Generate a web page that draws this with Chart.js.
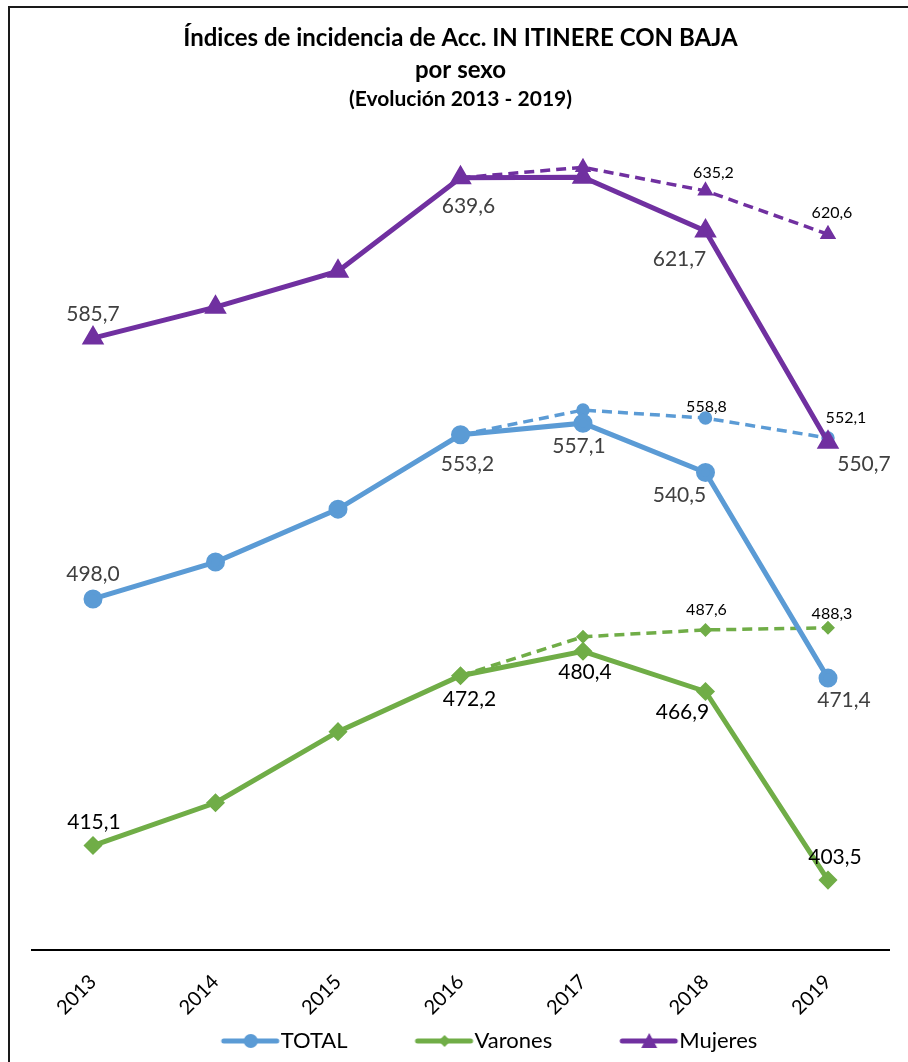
<!DOCTYPE html>
<html>
<head>
<meta charset="utf-8">
<script src="https://cdn.jsdelivr.net/npm/chart.js@4/dist/chart.umd.min.js"></script>
<style>
  html, body { margin: 0; padding: 0; background: #fff; }
  #wrap { position: relative; width: 908px; height: 1062px; overflow: hidden; }
  #frame { position: absolute; left: 8px; top: 6px; right: -4px; bottom: -4px;
           border-left: 2px solid #1a1a1a; border-top: 2px solid #1a1a1a; pointer-events: none; }
  canvas { position: absolute; left: 0; top: 0; }
</style>
</head>
<body>
<div id="wrap">
  <canvas id="c" width="908" height="1062"></canvas>
  <div id="frame"></div>
</div>
<script>
// ---- data ----
const years = ['2013', '2014', '2015', '2016', '2017', '2018', '2019'];
const totalValues   = [498.0, 510.4, 528.2, 553.2, 557.1, 540.5, 471.4];
const varonesValues = [415.1, 429.5, 453.4, 472.2, 480.4, 466.9, 403.5];
const mujeresValues = [585.7, 596.1, 608.2, 639.6, 639.8, 621.7, 550.7];
const totalDashed   = [null, null, null, 553.2, 561.5, 558.8, 552.1];
const varonesDashed = [null, null, null, 472.2, 485.3, 487.6, 488.3];
const mujeresDashed = [null, null, null, 639.6, 643.1, 635.2, 620.6];
const seriesNames = ['TOTAL', 'Varones', 'Mujeres'];

// ---- styling ----
const C_TOTAL = '#5B9BD5', C_VAR = '#70AD47', C_MUJ = '#7030A0';
const FONT = 'Lato, "Open Sans", sans-serif';

// label placement (offsets from point, null = no label)
const labelPlacement = {
  totalSolid:   [[0,-25], null, null, [7,29], [-4,23], [-26,23], [16,22]],
  varonesSolid: [[1,-23], null, null, [9,24], [2,21], [-23,21], [7,-23]],
  mujeresSolid: [[0,-24], null, null, [8,28], null, [-26,28], [36,22]],
  totalDash:    [null, null, null, null, null, [1,-11], [18,-20]],
  varonesDash:  [null, null, null, null, null, [1,-20], [4,-14]],
  mujeresDash:  [null, null, null, null, null, [8,-18], [4,-21]]
};

// legend icon: line + marker, placed in the right part of a wide image
function legendIcon(color, style) {
  const cv = document.createElement('canvas');
  cv.width = 128; cv.height = 20;
  const g = cv.getContext('2d');
  g.strokeStyle = color; g.fillStyle = color; g.lineWidth = 5; g.lineCap = 'round';
  g.beginPath(); g.moveTo(71, 10); g.lineTo(124, 10); g.stroke();
  const cx = 98;
  g.beginPath();
  if (style === 'circle') { g.arc(cx, 10, 7, 0, Math.PI * 2); }
  else if (style === 'rectRot') { g.moveTo(cx, 4); g.lineTo(cx + 6, 10); g.lineTo(cx, 16); g.lineTo(cx - 6, 10); g.closePath(); }
  else { g.moveTo(cx, 2); g.lineTo(cx + 8, 17); g.lineTo(cx - 8, 17); g.closePath(); }
  g.fill();
  return cv;
}
const icons = [legendIcon(C_TOTAL, 'circle'), legendIcon(C_VAR, 'rectRot'), legendIcon(C_MUJ, 'triangle')];

const fmt = v => v.toFixed(1).replace('.', ',');

const labelPlugin = {
  id: 'valueLabels',
  afterDatasetsDraw(chart) {
    const ctx = chart.ctx;
    chart.data.datasets.forEach((ds, di) => {
      const place = labelPlacement[ds.labelKey];
      if (!place) return;
      const meta = chart.getDatasetMeta(di);
      ctx.save();
      ctx.font = ds.labelFont;
      ctx.fillStyle = ds.labelColor;
      ctx.textAlign = 'center';
      ctx.textBaseline = 'middle';
      meta.data.forEach((pt, i) => {
        const v = ds.data[i];
        if (v == null || !place[i]) return;
        ctx.fillText(fmt(v), pt.x + place[i][0], pt.y + place[i][1]);
      });
      ctx.restore();
    });
  }
};

const solidLabelFont = '21px ' + FONT;
const dashLabelFont = '16px ' + FONT;

const datasets = [
  { label: seriesNames[0], data: totalValues, borderColor: C_TOTAL, backgroundColor: C_TOTAL,
    borderWidth: 5, pointStyle: 'circle', pointRadius: 7, labelKey: 'totalSolid',
    labelFont: solidLabelFont, labelColor: '#404040', order: 2 },
  { label: seriesNames[1], data: varonesValues, borderColor: C_VAR, backgroundColor: C_VAR,
    borderWidth: 5, pointStyle: 'rectRot', pointRadius: 6, labelKey: 'varonesSolid',
    labelFont: solidLabelFont, labelColor: '#000000', order: 2 },
  { label: seriesNames[2], data: mujeresValues, borderColor: C_MUJ, backgroundColor: C_MUJ,
    borderWidth: 5, pointStyle: 'triangle', pointRadius: 8, labelKey: 'mujeresSolid',
    labelFont: solidLabelFont, labelColor: '#404040', order: 2 },
  { label: 'dash', data: totalDashed, borderColor: C_TOTAL, backgroundColor: C_TOTAL,
    borderWidth: 3.5, borderDash: [10, 6], pointStyle: 'circle', pointRadius: 5, labelKey: 'totalDash',
    labelFont: dashLabelFont, labelColor: '#000000', order: 3 },
  { label: 'dash', data: varonesDashed, borderColor: C_VAR, backgroundColor: C_VAR,
    borderWidth: 3.5, borderDash: [10, 6], pointStyle: 'rectRot', pointRadius: 4.5, labelKey: 'varonesDash',
    labelFont: dashLabelFont, labelColor: '#000000', order: 3 },
  { label: 'dash', data: mujeresDashed, borderColor: C_MUJ, backgroundColor: C_MUJ,
    borderWidth: 3.5, borderDash: [10, 6], pointStyle: 'triangle', pointRadius: 6, labelKey: 'mujeresDash',
    labelFont: dashLabelFont, labelColor: '#000000', order: 3 }
];

new Chart(document.getElementById('c'), {
  type: 'line',
  data: { labels: years, datasets },
  options: {
    responsive: false,
    animation: false,
    devicePixelRatio: 1,
    layout: { padding: { left: 31.75, right: 18.75, top: 0, bottom: 0 } },
    elements: { line: { tension: 0 }, point: { borderWidth: 0, hoverRadius: 7 } },
    scales: {
      x: {
        offset: true,
        grid: { display: false, drawTicks: false },
        border: { display: true, color: '#000', width: 2 },
        ticks: { color: '#000', font: { family: FONT, size: 20 }, minRotation: 45, maxRotation: 45, padding: 20 },
        afterFit(scale) { scale.height = 70; }
      },
      y: { display: false, min: 380, max: 662 }
    },
    plugins: {
      title: {
        display: true,
        text: ['Índices de incidencia de Acc. IN ITINERE CON BAJA', 'por sexo'],
        color: '#000',
        font: { family: FONT, size: 24, weight: 'bold', lineHeight: 1.3333 },
        padding: { top: 22, bottom: 0 }
      },
      subtitle: {
        display: true,
        text: '(Evolución 2013 - 2019)',
        color: '#000',
        font: { family: FONT, size: 21, weight: 'bold', lineHeight: 1.1 },
        padding: { top: 2, bottom: 0 }
      },
      legend: {
        position: 'bottom',
        labels: {
          usePointStyle: true,
          pointStyleWidth: 106,
          color: '#000',
          font: { family: FONT, size: 22 },
          padding: 10,
          generateLabels(chart) {
            return seriesNames.map((n, i) => ({
              text: n, pointStyle: icons[i], fillStyle: 'transparent', strokeStyle: 'transparent',
              lineWidth: 0, datasetIndex: i, hidden: false, fontColor: '#000'
            }));
          }
        }
      },
      tooltip: { enabled: false }
    }
  },
  plugins: [labelPlugin]
});
</script>
</body>
</html>
